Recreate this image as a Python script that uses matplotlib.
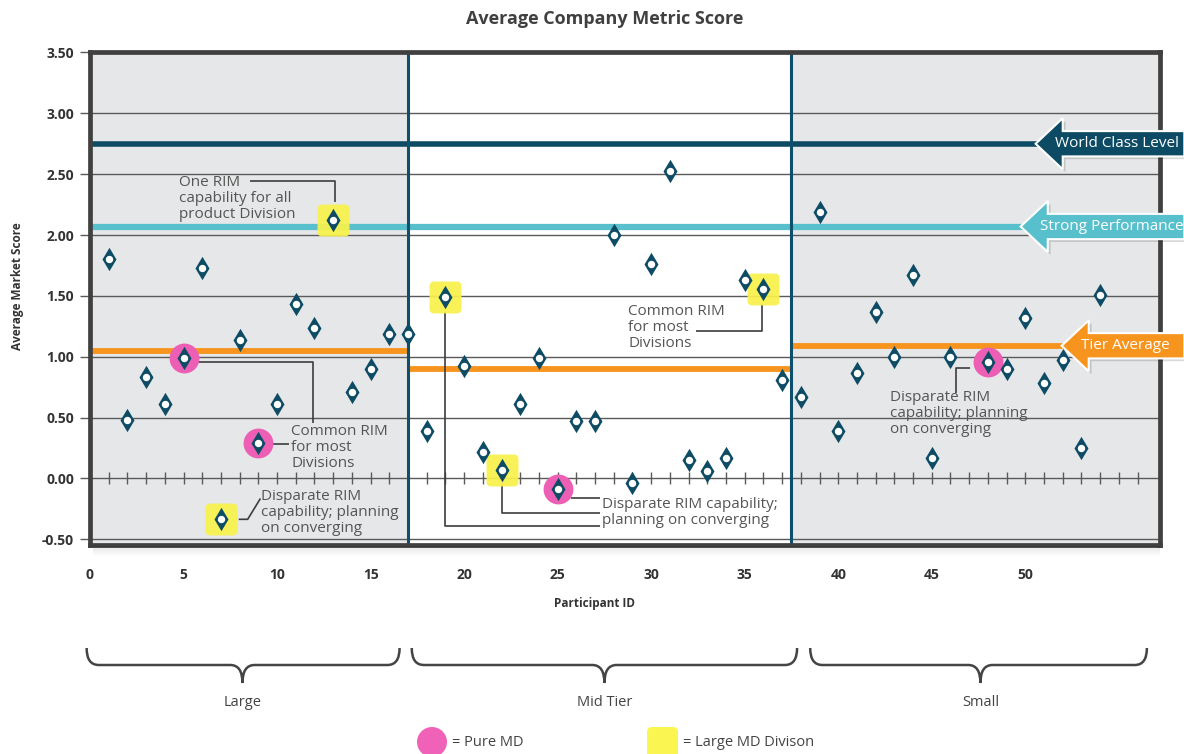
import numpy as np
import matplotlib.pyplot as plt
from matplotlib import transforms
from matplotlib.path import Path
from matplotlib.patches import Polygon, Ellipse, FancyBboxPatch, PathPatch, Rectangle

plt.rcParams['font.family'] = ['Open Sans', 'DejaVu Sans']

# Participant scores (participant 47 has no score)
participant_ids = list(range(1, 47)) + list(range(48, 55))
scores = [1.80, 0.48, 0.83, 0.61, 0.99, 1.73, -0.33, 1.14, 0.29, 0.61,
          1.43, 1.24, 2.12, 0.71, 0.90, 1.19, 1.19, 0.39, 1.49, 0.92,
          0.22, 0.07, 0.61, 0.99, -0.09, 0.47, 0.47, 2.00, -0.04, 1.76,
          2.53, 0.15, 0.06, 0.17, 1.63, 1.56, 0.81, 0.67, 2.19, 0.39,
          0.87, 1.37, 1.00, 1.67, 0.17, 1.00, 0.96, 0.90, 1.32, 0.78,
          0.97, 0.25, 1.51]

pure_md_ids = [5, 9, 25, 48]
large_md_ids = [7, 13, 19, 22, 36]

# Company tiers
tier_names = ['Large', 'Mid Tier', 'Small']
tier_bounds = [0, 17, 37.5, 57.2]
tier_averages = [1.05, 0.90, 1.09]

world_class_level = 2.75
strong_performance = 2.07

score_of = dict(zip(participant_ids, scores))

TEAL = '#0e4c66'
CYAN = '#58bfcc'
ORANGE = '#f7941e'
SHADE = '#e6e7e8'
GRID = '#5a5a5a'
PINK = '#ec5fb5'
YELLOW = '#f8f24b'
NOTE = '#555555'

fig = plt.figure(figsize=(11.84, 7.54), dpi=100)
ax = fig.add_axes([90 / 1184, 1 - 544.5 / 754, 1070 / 1184, 492.5 / 754])

# pixel coordinates measured from the top-left corner of the figure
top_px = (transforms.Affine2D().scale(1, -1).translate(0, 754).scale(1 / fig.dpi)
          + fig.dpi_scale_trans)

ax.set_xlim(tier_bounds[0], tier_bounds[-1])
ax.set_ylim(-0.543, 3.504)

# shaded tier bands
for lo, hi, shaded in zip(tier_bounds[:-1], tier_bounds[1:], [True, False, True]):
    if shaded:
        ax.axvspan(lo, hi, color=SHADE, lw=0, zorder=0)

yticks = np.arange(-0.5, 3.51, 0.5)
ax.set_yticks(yticks, labels=[f'{v:.2f}' for v in yticks], fontweight='bold')
ax.set_xticks(range(0, 51, 5), labels=[str(v) for v in range(0, 51, 5)], fontweight='bold')
ax.yaxis.grid(True, color=GRID, lw=1.0)
ax.set_axisbelow(True)
ax.tick_params(axis='y', direction='out', length=7.5, width=1, color=GRID, pad=4,
               labelsize=10, labelcolor='#333333')
ax.tick_params(axis='x', length=0, pad=17, labelsize=10, labelcolor='#333333')

# integer ticks along the zero line
ax.plot(np.arange(1, 57), np.zeros(56), ls='none', marker='|', ms=8, mew=1,
        color=GRID, zorder=0.6)

for s in ax.spines.values():
    s.set_linewidth(3.4)
    s.set_color('#404040')

# reference levels
for lo, hi, avg in zip(tier_bounds[:-1], tier_bounds[1:], tier_averages):
    ax.hlines(avg, lo, hi, color=ORANGE, lw=4.2, zorder=2)
ax.axhline(world_class_level, color='#0d4a63', lw=4, zorder=2)
ax.axhline(strong_performance, color=CYAN, lw=4.5, zorder=2)

# tier dividers
for b in tier_bounds[1:-1]:
    ax.axvline(b, color='#0f4f6b', lw=2.2, zorder=2.5)

# markers
diamond = Path([(0, 1), (0.6, 0), (0, -1), (-0.6, 0), (0, 1)],
               [Path.MOVETO, Path.LINETO, Path.LINETO, Path.LINETO, Path.CLOSEPOLY])
r = 0.3
rsq_verts = [(-1 + r, -1), (1 - r, -1), (1, -1), (1, -1 + r), (1, 1 - r), (1, 1),
             (1 - r, 1), (-1 + r, 1), (-1, 1), (-1, 1 - r), (-1, -1 + r), (-1, -1),
             (-1 + r, -1), (0, 0)]
rsq_codes = [Path.MOVETO, Path.LINETO, Path.CURVE3, Path.CURVE3, Path.LINETO,
             Path.CURVE3, Path.CURVE3, Path.LINETO, Path.CURVE3, Path.CURVE3,
             Path.LINETO, Path.CURVE3, Path.CURVE3, Path.CLOSEPOLY]
rounded_square = Path(rsq_verts, rsq_codes)

ax.plot(pure_md_ids, [score_of[i] for i in pure_md_ids], ls='none', marker='o',
        ms=21.5, mew=0, color=PINK, zorder=3)
ax.plot(large_md_ids, [score_of[i] for i in large_md_ids], ls='none',
        marker=rounded_square, ms=23, mew=0, color=YELLOW, alpha=0.93, zorder=3)
ax.plot(participant_ids, scores, ls='none', marker=diamond, ms=16.8, mew=0,
        color=TEAL, zorder=4)
ax.plot(participant_ids, scores, ls='none', marker='o', ms=5.3, mew=0,
        color='white', zorder=5)

# callouts
note_kw = dict(fontsize=11, color=NOTE, linespacing=1.09, va='top', ha='left', zorder=3)
link_kw = dict(color='#3d3d3d', lw=1.2, zorder=2.8, solid_capstyle='butt')

ax.text(4.78, 2.49, 'One RIM\ncapability for all\nproduct Division', **note_kw)
ax.plot([8.56, 13.1, 13.1], [2.443, 2.443, 2.27], **link_kw)

ax.text(10.77, 0.449, 'Common RIM\nfor most\nDivisions', **note_kw)
ax.plot([5.74, 11.91, 11.91], [0.955, 0.955, 0.455], **link_kw)
ax.plot([9.74, 10.63], [0.283, 0.283], **link_kw)

ax.text(9.15, -0.09, 'Disparate RIM\ncapability; planning\non converging', **note_kw)
ax.plot([7.95, 8.43, 9.11], [-0.336, -0.336, -0.165], **link_kw)

ax.text(27.36, -0.15, 'Disparate RIM capability;\nplanning on converging', **note_kw)
ax.plot([25.69, 27.24], [-0.16, -0.16], **link_kw)
ax.plot([22.0, 22.0, 27.24], [-0.055, -0.284, -0.284], **link_kw)
ax.plot([19.0, 19.0, 27.24], [1.364, -0.392, -0.392], **link_kw)

ax.text(28.77, 1.432, 'Common RIM\nfor most\nDivisions', **note_kw)
ax.plot([32.41, 35.92, 35.92], [1.212, 1.212, 1.432], **link_kw)

ax.text(42.79, 0.725, 'Disparate RIM\ncapability; planning\non converging', **note_kw)
ax.plot([47.06, 46.28, 46.28], [0.909, 0.909, 0.70], **link_kw)


def level_arrow(y, x_tip, color, label):
    x_base = x_tip + 1.45
    x_end = 58.5
    hh, bh = 0.21, 0.104
    verts = [(x_tip, y), (x_base, y + hh), (x_base, y + bh), (x_end, y + bh),
             (x_end, y - bh), (x_base, y - bh), (x_base, y - hh)]
    offset = transforms.ScaledTranslation(2 / 72, -2 / 72, fig.dpi_scale_trans)
    ax.add_patch(Polygon(verts, closed=True, fc='black', ec='none', alpha=0.15,
                         clip_on=False, zorder=6, transform=ax.transData + offset))
    ax.add_patch(Polygon(verts, closed=True, fc=color, ec='white', lw=1.5,
                         clip_on=False, zorder=7))
    ax.text(x_base - 0.4, y, label, color='white', fontsize=11, va='center',
            ha='left', zorder=8, clip_on=False)


level_arrow(world_class_level, 50.55, '#0d4a63', 'World Class Level')
level_arrow(strong_performance, 49.75, CYAN, 'Strong Performance')
level_arrow(tier_averages[2], 51.94, ORANGE, 'Tier Average')

# soft shadow under the frame
for i in range(10):
    fig.add_artist(Rectangle((93, 546 + i), 1067, 1, transform=top_px, color='black',
                             alpha=0.10 * (1 - i / 10), lw=0))

fig.text(605, 19, 'Average Company Metric Score', transform=top_px, ha='center',
         va='center', fontsize=13, fontweight='bold', color='#404040')
fig.text(595, 603, 'Participant ID', transform=top_px, ha='center', va='center',
         fontsize=8.5, fontweight='bold', color='#333333')
fig.text(18, 286, 'Average Market Score', transform=top_px, ha='center', va='center',
         rotation=90, fontsize=8.5, fontweight='bold', color='#333333')

# tier braces below the axis
blend = transforms.blended_transform_factory(ax.transData, top_px)
brace_spans = [(-0.18, 16.55, 8.15), (17.2, 37.8, 27.5), (38.5, 56.5, 47.6)]
y_top, y_mid, y_tip, rb = 648, 665, 683, 0.65
for (x0, x1, xc), name in zip(brace_spans, tier_names):
    verts = [(x0, y_top), (x0, y_mid), (x0 + rb, y_mid), (xc - rb, y_mid),
             (xc, y_mid), (xc, y_tip), (xc, y_mid), (xc + rb, y_mid),
             (x1 - rb, y_mid), (x1, y_mid), (x1, y_top)]
    codes = [Path.MOVETO, Path.CURVE3, Path.CURVE3, Path.LINETO, Path.CURVE3,
             Path.CURVE3, Path.CURVE3, Path.CURVE3, Path.LINETO, Path.CURVE3, Path.CURVE3]
    ax.add_patch(PathPatch(Path(verts, codes), fill=False, ec='#444444', lw=1.8,
                           transform=blend, clip_on=False))
    ax.text(xc, 702, name, transform=blend, ha='center', va='center', fontsize=10.5,
            color='#444444')

# legend swatches
fig.add_artist(Ellipse((432, 742), 30, 30, transform=top_px, color='#ef62b8', lw=0))
fig.add_artist(FancyBboxPatch((647, 727), 31, 34, boxstyle='round,pad=0,rounding_size=5',
                              transform=top_px, color='#fbf552', lw=0))
fig.text(452, 742, '= Pure MD', transform=top_px, va='center', fontsize=10.5,
         color='#444444')
fig.text(683, 742, '= Large MD Divison', transform=top_px, va='center', fontsize=10.5,
         color='#444444')

fig.savefig('out.png', dpi=100)
